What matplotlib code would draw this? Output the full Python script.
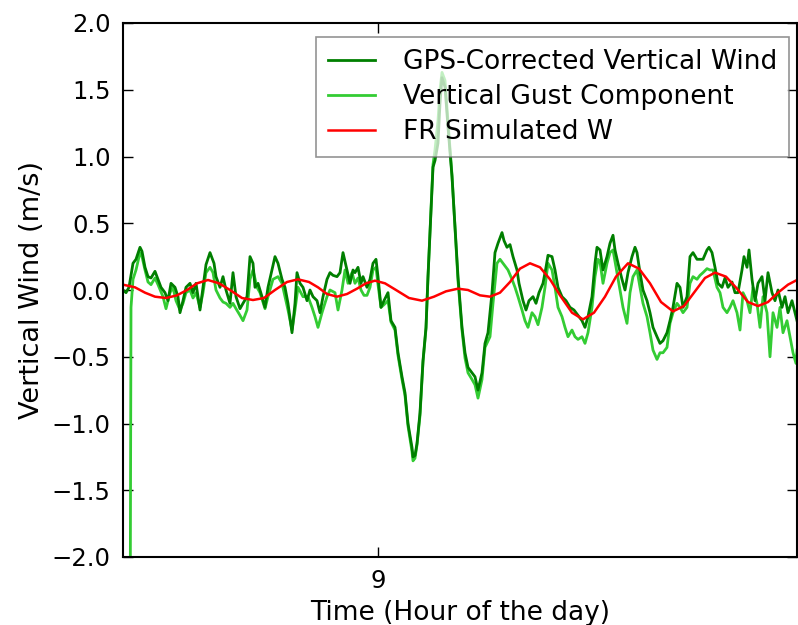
import matplotlib
matplotlib.use("Agg")
import matplotlib.pyplot as plt

# Time in hours of the day
gps_time = [8.745, 8.748, 8.751, 8.755, 8.758, 8.762, 8.764, 8.767, 8.770, 8.773, 8.777, 8.780, 8.783, 8.787,
            8.790, 8.793, 8.797, 8.800, 8.802, 8.805, 8.808, 8.812, 8.815, 8.818, 8.822, 8.825, 8.828, 8.832,
            8.836, 8.838, 8.842, 8.845, 8.848, 8.852, 8.855, 8.858, 8.862, 8.865, 8.869, 8.872, 8.875, 8.877,
            8.880, 8.884, 8.887, 8.890, 8.894, 8.897, 8.900, 8.904, 8.907, 8.910, 8.914, 8.917, 8.919, 8.922,
            8.925, 8.929, 8.932, 8.935, 8.939, 8.942, 8.945, 8.949, 8.952, 8.955, 8.959, 8.962, 8.965, 8.969,
            8.972, 8.975, 8.977, 8.980, 8.983, 8.985, 8.989, 8.992, 8.995, 8.998, 9.000, 9.003, 9.006, 9.010,
            9.013, 9.017, 9.020, 9.024, 9.027, 9.030, 9.034, 9.035, 9.037, 9.039, 9.042, 9.045, 9.048, 9.050,
            9.053, 9.055, 9.057, 9.060, 9.062, 9.064, 9.067, 9.070, 9.074, 9.077, 9.080, 9.084, 9.087, 9.090,
            9.094, 9.097, 9.100, 9.104, 9.107, 9.110, 9.114, 9.117, 9.120, 9.124, 9.126, 9.129, 9.132, 9.135,
            9.139, 9.141, 9.145, 9.148, 9.151, 9.155, 9.158, 9.161, 9.165, 9.168, 9.170, 9.174, 9.177, 9.180,
            9.184, 9.188, 9.192, 9.196, 9.200, 9.204, 9.207, 9.210, 9.214, 9.217, 9.219, 9.222, 9.225, 9.229,
            9.232, 9.235, 9.237, 9.240, 9.244, 9.247, 9.250, 9.254, 9.257, 9.259, 9.262, 9.265, 9.269, 9.272,
            9.275, 9.279, 9.282, 9.285, 9.289, 9.292, 9.295, 9.299, 9.302, 9.305, 9.309, 9.312, 9.315, 9.319,
            9.322, 9.325, 9.329, 9.331, 9.334, 9.337, 9.340, 9.344, 9.347, 9.350, 9.354, 9.357, 9.360, 9.364,
            9.366, 9.369, 9.371, 9.374, 9.377, 9.380, 9.384, 9.387, 9.390, 9.394, 9.397, 9.400, 9.404, 9.407,
            9.410, 9.414, 9.417, 9.419]
gps_w = [0.00, -0.02, 0.02, 0.20, 0.23, 0.32, 0.29, 0.17, 0.10, 0.09, 0.14, 0.08, 0.02, -0.02,
         -0.08, 0.05, 0.02, -0.05, -0.17, -0.08, 0.02, 0.05, -0.02, 0.05, -0.15, 0.02, 0.19, 0.28,
         0.20, 0.10, 0.02, 0.10, 0.00, -0.10, 0.13, -0.05, -0.14, -0.10, -0.05, 0.25, 0.20, 0.02,
         0.05, -0.05, -0.13, 0.02, 0.15, 0.25, 0.20, 0.08, 0.02, -0.10, -0.32, -0.10, 0.13, 0.05,
         0.02, -0.08, 0.00, -0.05, -0.08, -0.17, -0.05, 0.08, 0.13, 0.11, 0.10, 0.13, 0.28, 0.15,
         0.05, 0.15, 0.13, 0.17, 0.05, 0.10, 0.02, 0.08, 0.20, 0.23, 0.10, -0.13, -0.08, -0.02,
         -0.23, -0.28, -0.47, -0.65, -0.77, -1.00, -1.18, -1.25, -1.24, -1.15, -0.92, -0.53, -0.28, 0.10,
         0.60, 0.92, 0.97, 1.10, 1.40, 1.59, 1.52, 1.22, 0.85, 0.47, 0.10, -0.28, -0.47, -0.58,
         -0.62, -0.65, -0.75, -0.62, -0.40, -0.32, -0.02, 0.28, 0.35, 0.43, 0.37, 0.32, 0.34, 0.25,
         0.15, 0.05, -0.08, -0.15, -0.08, -0.05, -0.10, -0.02, 0.05, 0.17, 0.26, 0.25, 0.15, 0.02,
         -0.05, -0.08, -0.13, -0.15, -0.19, -0.23, -0.28, -0.20, -0.05, 0.20, 0.32, 0.30, 0.15, 0.25,
         0.35, 0.41, 0.30, 0.20, 0.08, 0.00, 0.13, 0.25, 0.32, 0.28, 0.13, 0.00, -0.08, -0.17,
         -0.28, -0.35, -0.40, -0.38, -0.32, -0.23, -0.13, 0.05, 0.02, -0.13, -0.05, 0.25, 0.28, 0.23,
         0.23, 0.23, 0.30, 0.32, 0.28, 0.17, 0.05, 0.02, 0.09, 0.02, 0.06, -0.02, -0.02, 0.15,
         0.25, 0.17, 0.30, 0.08, -0.08, 0.05, 0.10, -0.08, 0.13, -0.02, -0.08, 0.00, -0.13, -0.05,
         -0.17, -0.08, -0.17, -0.23]

gust_time = [8.752, 8.753, 8.755, 8.758, 8.762, 8.764, 8.767, 8.770, 8.773, 8.777, 8.780, 8.785, 8.788, 8.792,
             8.795, 8.798, 8.802, 8.805, 8.808, 8.812, 8.815, 8.818, 8.822, 8.825, 8.828, 8.832, 8.835, 8.838,
             8.842, 8.845, 8.848, 8.852, 8.855, 8.858, 8.862, 8.865, 8.869, 8.872, 8.875, 8.879, 8.882, 8.887,
             8.890, 8.895, 8.900, 8.904, 8.907, 8.910, 8.914, 8.917, 8.920, 8.925, 8.930, 8.934, 8.937, 8.940,
             8.944, 8.949, 8.952, 8.957, 8.960, 8.964, 8.967, 8.970, 8.974, 8.977, 8.980, 8.983, 8.986, 8.989,
             8.992, 8.995, 8.998, 9.000, 9.003, 9.006, 9.010, 9.013, 9.017, 9.020, 9.024, 9.027, 9.030, 9.034,
             9.035, 9.037, 9.039, 9.042, 9.045, 9.048, 9.050, 9.053, 9.055, 9.057, 9.060, 9.062, 9.064, 9.067,
             9.070, 9.074, 9.077, 9.080, 9.084, 9.087, 9.090, 9.094, 9.097, 9.100, 9.104, 9.107, 9.112, 9.115,
             9.119, 9.122, 9.125, 9.130, 9.134, 9.137, 9.140, 9.144, 9.147, 9.150, 9.154, 9.157, 9.160, 9.164,
             9.167, 9.170, 9.174, 9.177, 9.180, 9.184, 9.187, 9.190, 9.194, 9.197, 9.200, 9.204, 9.207, 9.210,
             9.214, 9.217, 9.220, 9.222, 9.225, 9.229, 9.232, 9.235, 9.239, 9.242, 9.245, 9.249, 9.252, 9.255,
             9.259, 9.262, 9.265, 9.269, 9.272, 9.275, 9.279, 9.282, 9.285, 9.289, 9.292, 9.295, 9.299, 9.302,
             9.305, 9.309, 9.312, 9.315, 9.319, 9.322, 9.325, 9.329, 9.332, 9.335, 9.339, 9.342, 9.345, 9.349,
             9.352, 9.355, 9.359, 9.362, 9.365, 9.369, 9.372, 9.375, 9.379, 9.382, 9.385, 9.389, 9.392, 9.395,
             9.399, 9.402, 9.405, 9.409, 9.412, 9.415, 9.418, 9.419]
gust_w = [-3.00, -0.13, 0.08, 0.15, 0.28, 0.25, 0.15, 0.06, 0.04, 0.09, 0.04, -0.05, -0.14, -0.02,
          0.02, -0.08, -0.15, -0.10, -0.02, 0.00, -0.06, -0.02, -0.13, -0.02, 0.13, 0.17, 0.13, 0.00,
          -0.06, -0.09, -0.10, -0.13, -0.10, -0.14, -0.19, -0.23, -0.15, 0.08, 0.15, 0.02, -0.02, -0.14,
          -0.05, 0.08, 0.10, 0.05, -0.05, -0.15, -0.30, -0.15, 0.02, -0.05, -0.05, -0.13, -0.20, -0.28,
          -0.17, -0.05, 0.00, -0.02, -0.15, 0.00, 0.15, 0.05, 0.13, 0.05, 0.09, 0.00, -0.04, -0.04,
          0.02, 0.15, 0.17, 0.04, -0.13, -0.11, -0.08, -0.24, -0.30, -0.49, -0.67, -0.79, -1.02, -1.21,
          -1.28, -1.26, -1.16, -0.94, -0.54, -0.29, 0.10, 0.61, 0.94, 1.05, 1.27, 1.50, 1.63, 1.57,
          1.26, 0.86, 0.46, 0.07, -0.30, -0.51, -0.62, -0.67, -0.71, -0.81, -0.67, -0.43, -0.35, -0.10,
          0.20, 0.23, 0.20, 0.15, 0.08, 0.02, -0.05, -0.15, -0.23, -0.28, -0.17, -0.20, -0.26, -0.13,
          0.02, 0.20, 0.15, 0.02, -0.13, -0.20, -0.28, -0.35, -0.30, -0.35, -0.37, -0.35, -0.40, -0.32,
          -0.13, 0.10, 0.23, 0.21, 0.05, 0.20, 0.28, 0.30, 0.13, 0.00, -0.13, -0.25, -0.02, 0.10,
          0.15, 0.02, -0.10, -0.20, -0.32, -0.45, -0.52, -0.47, -0.47, -0.43, -0.25, -0.17, -0.10, -0.13,
          -0.17, -0.13, 0.05, 0.10, 0.08, 0.11, 0.13, 0.16, 0.15, 0.15, 0.02, -0.02, -0.13, -0.17,
          -0.13, -0.08, -0.17, -0.30, -0.02, -0.08, -0.17, 0.02, -0.10, -0.28, -0.05, -0.17, -0.50, -0.17,
          -0.28, -0.13, -0.32, -0.23, -0.35, -0.47, -0.55, -0.45]

fr_time = [8.745, 8.757, 8.767, 8.777, 8.788, 8.799, 8.809, 8.819, 8.830, 8.841, 8.852, 8.864, 8.875, 8.886,
           8.897, 8.909, 8.920, 8.931, 8.940, 8.949, 8.959, 8.969, 8.979, 8.988, 8.997, 9.007, 9.018, 9.031,
           9.044, 9.056, 9.068, 9.080, 9.090, 9.102, 9.112, 9.122, 9.132, 9.142, 9.152, 9.162, 9.172, 9.182,
           9.194, 9.205, 9.216, 9.227, 9.238, 9.250, 9.261, 9.272, 9.283, 9.295, 9.306, 9.316, 9.327, 9.337,
           9.348, 9.359, 9.370, 9.380, 9.390, 9.400, 9.410, 9.419]
fr_w = [0.04, 0.02, -0.02, -0.05, -0.06, -0.04, 0.00, 0.05, 0.075, 0.05, 0.00, -0.06, -0.075, -0.06,
        0.00, 0.06, 0.08, 0.06, 0.02, -0.03, -0.05, -0.03, 0.01, 0.05, 0.07, 0.05, 0.00, -0.06,
        -0.08, -0.05, -0.01, 0.01, 0.00, -0.04, -0.05, -0.02, 0.06, 0.16, 0.20, 0.17, 0.08, -0.04,
        -0.17, -0.22, -0.17, -0.05, 0.10, 0.20, 0.16, 0.05, -0.09, -0.16, -0.12, -0.02, 0.09, 0.13,
        0.10, 0.01, -0.09, -0.12, -0.09, -0.02, 0.04, 0.075]

x_ticks = [9]
x_tick_labels = ["9"]
y_ticks = [-2.0, -1.5, -1.0, -0.5, 0.0, 0.5, 1.0, 1.5, 2.0]

plt.rcParams['font.family'] = ['DejaVu Sans']
fig = plt.figure(figsize=(7.98, 6.25), dpi=100)
fig.patch.set_facecolor('white')
ax = fig.add_axes([123/798, 68/625, 674/798, 534/625])

l_gust, = ax.plot(gust_time, gust_w, color='#33cc33', lw=2.0, label='Vertical Gust Component')
l_gps, = ax.plot(gps_time, gps_w, color='#007f00', lw=2.0, label='GPS-Corrected Vertical Wind')
l_fr, = ax.plot(fr_time, fr_w, color='#ff0000', lw=1.8, label='FR Simulated W')

ax.set_xlim(8.745, 9.419)
ax.set_ylim(-2.0, 2.0)
ax.set_xticks(x_ticks)
ax.set_xticklabels(x_tick_labels)
ax.set_yticks(y_ticks)
ax.set_yticklabels([f"{v:.1f}".replace('-', '\u2212') for v in y_ticks])
ax.tick_params(direction='in', top=True, right=True, length=7, width=1, labelsize=17.5, pad=9)
for s in ax.spines.values():
    s.set_linewidth(1.5)
ax.set_xlabel('Time (Hour of the day)', fontsize=19, labelpad=5)
ax.set_ylabel('Vertical Wind (m/s)', fontsize=19.5, labelpad=5)

leg = ax.legend(handles=[l_gps, l_gust, l_fr], loc='upper right', bbox_to_anchor=(0.988, 0.974),
                borderaxespad=0, fontsize=19, fancybox=False, framealpha=0.7, edgecolor='#666666',
                handlelength=1.8, handletextpad=1.05, labelspacing=0.35, borderpad=0.45)
leg.get_frame().set_linewidth(1.2)

fig.savefig('out.png', dpi=100, facecolor='white')
